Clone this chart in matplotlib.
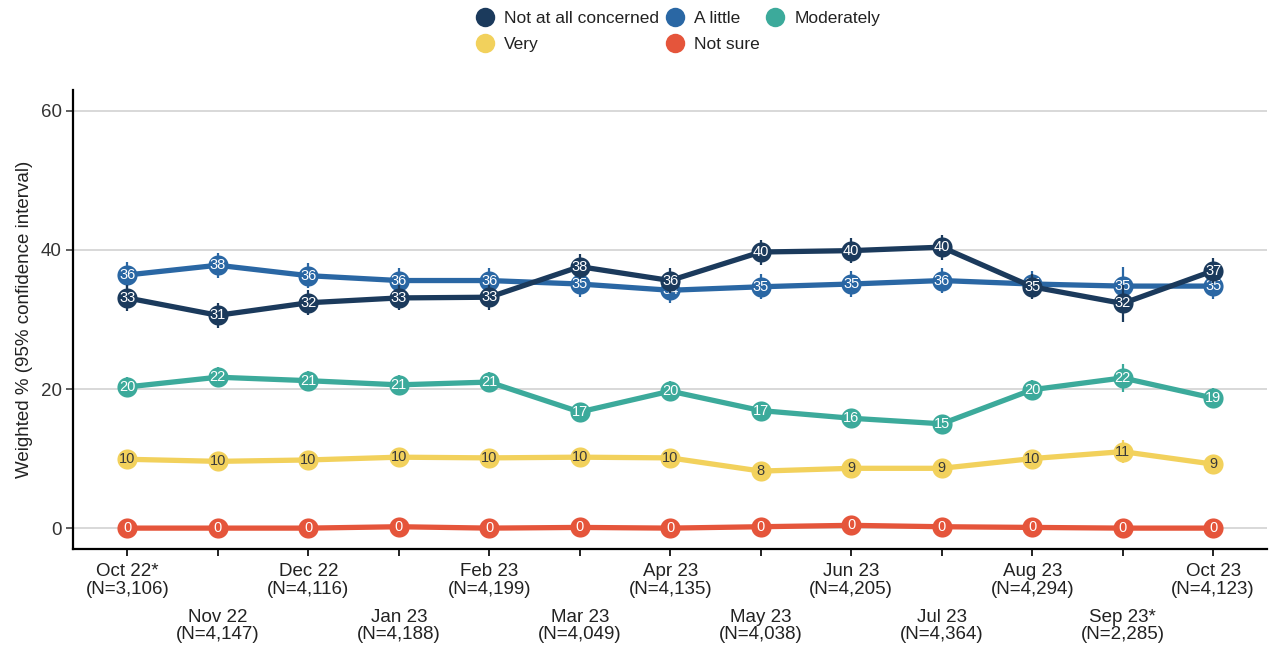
import matplotlib
matplotlib.use("Agg")
import matplotlib.pyplot as plt
from matplotlib.lines import Line2D
import numpy as np

plt.rcParams['font.family'] = ['Liberation Sans', 'DejaVu Sans']

months = ["Oct 22*", "Nov 22", "Dec 22", "Jan 23", "Feb 23", "Mar 23", "Apr 23",
          "May 23", "Jun 23", "Jul 23", "Aug 23", "Sep 23*", "Oct 23"]
sample_n = ["3,106", "4,147", "4,116", "4,188", "4,199", "4,049", "4,135",
            "4,038", "4,205", "4,364", "4,294", "2,285", "4,123"]

not_at_all = [33.1, 30.6, 32.4, 33.1, 33.2, 37.6, 35.6, 39.7, 39.9, 40.4, 34.7, 32.3, 37.0]
a_little = [36.4, 37.8, 36.3, 35.6, 35.6, 35.1, 34.2, 34.7, 35.1, 35.6, 35.1, 34.8, 34.8]
moderately = [20.3, 21.7, 21.2, 20.6, 21.0, 16.7, 19.7, 16.9, 15.8, 15.0, 19.9, 21.6, 18.7]
very = [9.9, 9.6, 9.8, 10.2, 10.1, 10.2, 10.1, 8.2, 8.6, 8.6, 10.0, 11.0, 9.2]
not_sure = [0.0, 0.0, 0.0, 0.2, 0.0, 0.1, 0.0, 0.2, 0.4, 0.2, 0.1, 0.0, 0.0]

# half-widths of the 95% confidence intervals
ci_not_at_all = [1.9, 1.8, 1.8, 1.8, 1.8, 1.8, 1.8, 1.8, 1.8, 1.8, 1.8, 2.6, 1.8]
ci_a_little = [1.9, 1.8, 1.8, 1.8, 1.8, 1.8, 1.8, 1.8, 1.8, 1.8, 1.8, 2.8, 1.8]
ci_moderately = [1.5, 1.4, 1.4, 1.4, 1.4, 1.3, 1.4, 1.3, 1.3, 1.3, 1.4, 2.0, 1.4]
ci_very = [1.1, 1.0, 1.0, 1.0, 1.0, 1.0, 1.0, 0.9, 0.9, 0.9, 1.0, 1.7, 1.0]
ci_not_sure = [0.2] * 13

series_names = ["Not at all concerned", "A little", "Moderately", "Very", "Not sure"]
series_values = [not_at_all, a_little, moderately, very, not_sure]
series_ci = [ci_not_at_all, ci_a_little, ci_moderately, ci_very, ci_not_sure]
colors = ["#1b3a5c", "#2a67a4", "#3caa9b", "#f2d15c", "#e5553b"]
text_colors = ["white", "white", "white", "#3a3a3a", "white"]

fig = plt.figure(figsize=(12.7, 6.52), dpi=100)
ax = fig.add_axes([0.0575, 0.158, 0.9405, 0.704])

x = np.arange(len(months))

for k, (vals, ci, col) in enumerate(zip(series_values, series_ci, colors)):
    z = 10 - k
    ax.plot(x, vals, color=col, lw=3.8, zorder=z, solid_capstyle='round')
    ax.errorbar(x, vals, yerr=ci, fmt='none', ecolor=col, elinewidth=1.6,
                capsize=0, zorder=z + 0.1)
    ax.plot(x, vals, 'o', color=col, ms=14.5, mec='none', zorder=z + 0.2)
    for xi, v in zip(x, vals):
        ax.text(xi, v, f"{v:.0f}", ha='center', va='center', fontsize=10.5,
                color=text_colors[k], zorder=z + 0.3)

ax.set_xlim(-0.6, 12.6)
ax.set_ylim(-3, 63)
ax.set_yticks([0, 20, 40, 60])
ax.yaxis.grid(True, color='#d6d6d6', lw=1.3, zorder=0)
ax.set_axisbelow(True)

ax.set_xticks(x)
ax.set_xticklabels([f"{m}\n(N={n})" for m, n in zip(months, sample_n)],
                   fontsize=13.5, linespacing=1.05)
for i, t in enumerate(ax.xaxis.get_major_ticks()):
    t.set_pad(5 if i % 2 == 0 else 38)

ax.tick_params(axis='x', length=5, width=1.4, color='#222222', labelcolor='#222222')
ax.tick_params(axis='y', length=5, width=1.2, color='#444444', labelsize=13.5,
               labelcolor='#333333', pad=3)

for s in ['top', 'right']:
    ax.spines[s].set_visible(False)
for s in ['left', 'bottom']:
    ax.spines[s].set_linewidth(1.6)
    ax.spines[s].set_color('black')

ax.set_ylabel("Weighted % (95% confidence interval)", fontsize=13.5, color='#222222',
              labelpad=6)

handles = [Line2D([0], [0], marker='o', ls='none', color=c, ms=14, mec='none')
           for c in colors]
order = [0, 3, 1, 4, 2]
leg = fig.legend([handles[i] for i in order], [series_names[i] for i in order],
                 ncol=3, loc='upper center', bbox_to_anchor=(0.534, 1.0 - 11 / 652),
                 frameon=False, fontsize=12.5, handlelength=1.0, handletextpad=0.6,
                 columnspacing=0.4, labelspacing=0.6, borderpad=0, borderaxespad=0)
for t in leg.get_texts():
    t.set_color('#222222')

fig.savefig("out.png", dpi=100, facecolor='white')
